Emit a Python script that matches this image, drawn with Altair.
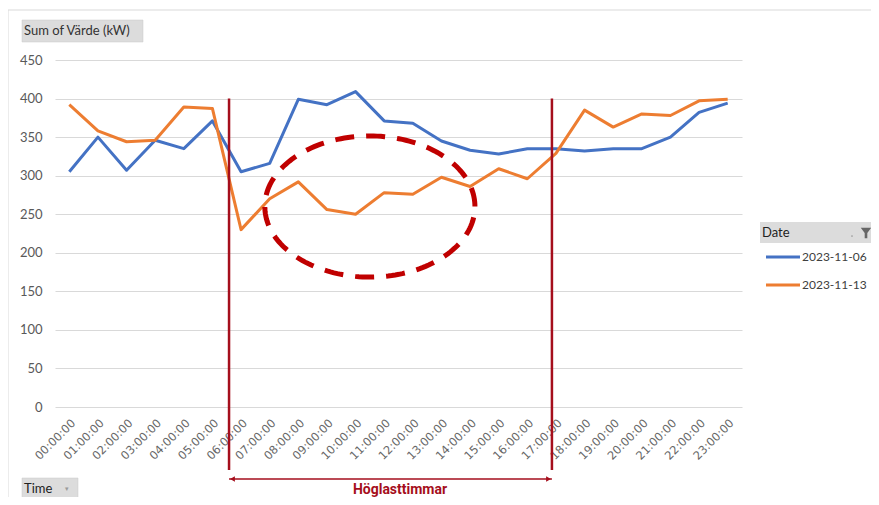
import json
import numpy as np
import pandas as pd
import altair as alt

# ---------------- data ----------------
times = ["00:00:00", "01:00:00", "02:00:00", "03:00:00", "04:00:00", "05:00:00",
         "06:00:00", "07:00:00", "08:00:00", "09:00:00", "10:00:00", "11:00:00",
         "12:00:00", "13:00:00", "14:00:00", "15:00:00", "16:00:00", "17:00:00",
         "18:00:00", "19:00:00", "20:00:00", "21:00:00", "22:00:00", "23:00:00"]
series_names = ["2023-11-06", "2023-11-13"]
values_1106 = [305, 350, 307, 346, 335, 371, 305, 316, 399, 392, 409, 371,
               368, 345, 333, 328, 335, 335, 332, 335, 335, 350, 382, 394]
values_1113 = [392, 358, 344, 346, 389, 387, 230, 270, 292, 256, 250, 278,
               276, 298, 286, 309, 296, 329, 385, 363, 380, 378, 397, 399]
colors = ["#4472C4", "#ED7D31"]
y_ticks = [0, 50, 100, 150, 200, 250, 300, 350, 400, 450]

# annotation parameters (in data units)
peak_start, peak_end = 5.58, 16.86
peak_line_top = 400
ellipse_center = (10.5, 260)
ellipse_radius = (3.67, 91.5)
annot_red = "#A50E1C"
ellipse_red = "#C00000"

W, H = 687, 347
grey_text = "#595959"
FONT = "Lato"

rows = []
for name, vals in zip(series_names, [values_1106, values_1113]):
    for i, v in enumerate(vals):
        rows.append({"hour": i, "value": v, "Date": name})
df = pd.DataFrame(rows)

color_scale = alt.Scale(domain=series_names, range=colors)
x_scale = alt.Scale(domain=[-0.5, 23.5], nice=False, zero=False)
y_scale = alt.Scale(domain=[0, 450], nice=False)

label_expr = json.dumps(times) + "[datum.value]"

x_axis = alt.Axis(values=list(range(len(times))), labelExpr=label_expr,
                  labelAngle=-45, labelColor="#666666", labelFont="DejaVu Sans",
                  labelFontSize=11.5, domain=False, ticks=False, grid=False,
                  labelOverlap=False, labelBound=False, labelFlush=False,
                  labelPadding=10, title=None)
y_axis = alt.Axis(values=y_ticks, labelColor=grey_text, labelFont=FONT,
                  labelFontSize=13, domain=False, ticks=False,
                  labelOverlap=False, labelBound=False, labelFlush=False,
                  gridColor="#d9d9d9", gridWidth=1, labelPadding=13, title=None)

# ---------------- frame / buttons ----------------
one = pd.DataFrame({"k": [0]})
frame = alt.Chart(one).mark_rect(
    fill="transparent", stroke="#d9d9d9", strokeWidth=1
).encode(x=alt.value(-47), x2=alt.value(W + 200), y=alt.value(-50), y2=alt.value(H + 100))

btn_sum = alt.Chart(one).mark_rect(fill="#dcdcdc", stroke="#c8c8c8", strokeWidth=0.5).encode(
    x=alt.value(-33), x2=alt.value(88), y=alt.value(-40), y2=alt.value(-18))
btn_sum_txt = alt.Chart(pd.DataFrame({"t": ["Sum of Värde (kW)"]})).mark_text(
    align="left", baseline="middle", font=FONT, fontSize=13, color="#333333"
).encode(x=alt.value(-31), y=alt.value(-29), text="t:N")

btn_time = alt.Chart(one).mark_rect(fill="#dcdcdc", stroke="#c8c8c8", strokeWidth=0.5).encode(
    x=alt.value(-33), x2=alt.value(23), y=alt.value(418), y2=alt.value(440))
btn_time_txt = alt.Chart(pd.DataFrame({"t": ["Time"]})).mark_text(
    align="left", baseline="middle", font=FONT, fontSize=13, color="#222222"
).encode(x=alt.value(-31), y=alt.value(429), text="t:N")
btn_time_arrow = alt.Chart(pd.DataFrame({"t": ["▾"]})).mark_text(
    align="center", baseline="middle", fontSize=7, color="#9a9a9a"
).encode(x=alt.value(12), y=alt.value(429), text="t:N")

# ---------------- main lines ----------------
lines = alt.Chart(df).mark_line(strokeWidth=3, strokeJoin="round").encode(
    x=alt.X("hour:Q", scale=x_scale, axis=x_axis),
    y=alt.Y("value:Q", scale=y_scale, axis=y_axis),
    color=alt.Color("Date:N", scale=color_scale, legend=None),
)

# ---------------- annotations ----------------
vdf = pd.DataFrame({"x": [peak_start, peak_end]})
vlines = alt.Chart(vdf).mark_rule(color=annot_red, strokeWidth=2.5).encode(
    x=alt.X("x:Q", scale=x_scale, axis=x_axis),
    y=alt.value(H - peak_line_top / 450 * H),
    y2=alt.value(410),
)

t = np.linspace(0, 2 * np.pi, 181)
edf = pd.DataFrame({
    "ex": ellipse_center[0] + ellipse_radius[0] * np.cos(t),
    "ey": ellipse_center[1] + ellipse_radius[1] * np.sin(t),
    "o": np.arange(len(t)),
})
ellipse = alt.Chart(edf).mark_line(
    color=ellipse_red, strokeWidth=5, strokeDash=[19, 12], strokeCap="butt"
).encode(
    x=alt.X("ex:Q", scale=x_scale, axis=x_axis),
    y=alt.Y("ey:Q", scale=y_scale, axis=y_axis),
    order="o:Q",
)

arrow_line = alt.Chart(pd.DataFrame({"a": [peak_start], "b": [peak_end]})).mark_rule(
    color=annot_red, strokeWidth=1.5
).encode(x=alt.X("a:Q", scale=x_scale, axis=x_axis), x2="b:Q", y=alt.value(419))

heads = alt.Chart(pd.DataFrame({
    "x": [peak_start + 0.12, peak_end - 0.12],
    "shape": ["triangle-left", "triangle-right"],
})).mark_point(filled=True, color=annot_red, size=30, opacity=1).encode(
    x=alt.X("x:Q", scale=x_scale, axis=x_axis),
    y=alt.value(419),
    shape=alt.Shape("shape:N", scale=None, legend=None),
)

peak_label = alt.Chart(pd.DataFrame({"t": ["Höglasttimmar"]})).mark_text(
    align="center", baseline="middle", font="Roboto", fontWeight="bold",
    fontSize=14, color=annot_red
).encode(x=alt.value(345), y=alt.value(430), text="t:N")

# ---------------- custom legend ----------------
leg_head = alt.Chart(one).mark_rect(fill="#dcdcdc").encode(
    x=alt.value(705), x2=alt.value(830), y=alt.value(162), y2=alt.value(183))
leg_head_txt = alt.Chart(pd.DataFrame({"t": ["Date"]})).mark_text(
    align="left", baseline="middle", font=FONT, fontSize=13, color="#222222"
).encode(x=alt.value(707), y=alt.value(173), text="t:N")
leg_funnel = alt.Chart(one).mark_point(
    shape="M-1,-1L1,-1L0.25,0L0.25,1L-0.25,1L-0.25,0Z", filled=True,
    color="#666666", size=110, opacity=1
).encode(x=alt.value(811), y=alt.value(173))
leg_dot = alt.Chart(one).mark_point(filled=True, color="#9a9a9a", size=3, opacity=1).encode(
    x=alt.value(797), y=alt.value(176))

legend_layers = []
for i, (name, col) in enumerate(zip(series_names, colors)):
    yy = 197 + 28 * i
    legend_layers.append(alt.Chart(one).mark_rule(strokeWidth=3, color=col).encode(
        x=alt.value(711), x2=alt.value(745), y=alt.value(yy)))
    legend_layers.append(alt.Chart(pd.DataFrame({"t": [name]})).mark_text(
        align="left", baseline="middle", font=FONT, fontSize=12, color="#404040"
    ).encode(x=alt.value(747), y=alt.value(yy), text="t:N"))

chart = alt.layer(
    frame, btn_sum, btn_sum_txt, btn_time, btn_time_txt, btn_time_arrow,
    lines, vlines, ellipse, arrow_line, heads, peak_label,
    leg_head, leg_head_txt, leg_funnel, leg_dot, *legend_layers,
).resolve_scale(x="shared", y="shared").properties(
    width=W, height=H,
    autosize=alt.AutoSizeParams(type="none"),
    padding={"left": 47, "top": 52, "right": 129, "bottom": 90},
).configure(background="white").configure_view(stroke=None)

chart.save("out.html", embed_options={"renderer": "svg", "actions": False})
